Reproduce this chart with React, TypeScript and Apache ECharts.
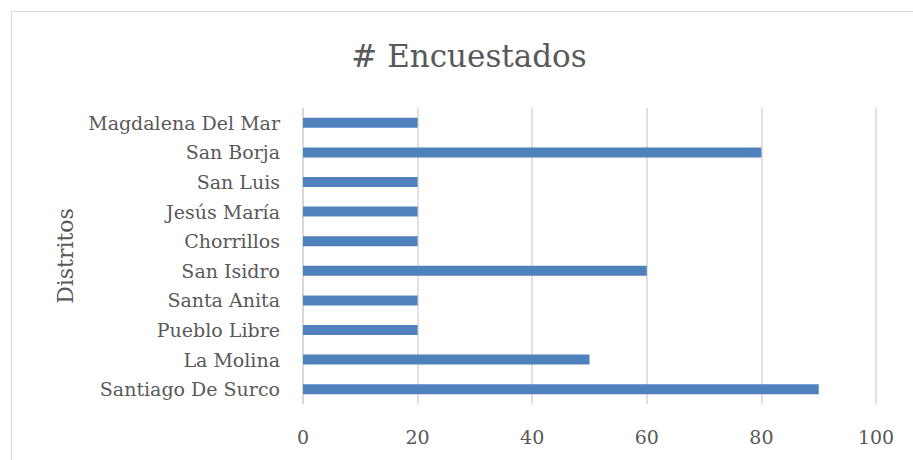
import React, { useEffect, useRef } from "react";
import * as echarts from "echarts";

const categories = [
  "Santiago De Surco",
  "La Molina",
  "Pueblo Libre",
  "Santa Anita",
  "San Isidro",
  "Chorrillos",
  "Jesús María",
  "San Luis",
  "San Borja",
  "Magdalena Del Mar",
];
const values = [90, 50, 20, 20, 60, 20, 20, 20, 80, 20];
const xTicks = [0, 20, 40, 60, 80, 100];

const FONT = "'DejaVu Serif', 'Liberation Serif', serif";

export default function App() {
  const ref = useRef<HTMLDivElement>(null);
  useEffect(() => {
    if (!ref.current) return;
    const chart = echarts.init(ref.current, undefined, { renderer: "svg" });
    chart.setOption({
      animation: false,
      backgroundColor: "#ffffff",
      title: {
        text: "# Encuestados",
        left: 464,
        top: 35,
        textAlign: "center",
        textStyle: { fontFamily: FONT, fontSize: 31, fontWeight: "normal", color: "#595959" },
      },
      graphic: [
        {
          type: "rect",
          shape: { x: 11.5, y: 11.5, width: 960, height: 500 },
          style: { fill: "none", stroke: "#d9d9d9", lineWidth: 1 },
          silent: true,
        },
      ],
      grid: { left: 303, right: 37, top: 108, bottom: 56, containLabel: false },
      xAxis: {
        type: "value",
        min: xTicks[0],
        max: xTicks[xTicks.length - 1],
        interval: 20,
        axisLine: { show: false },
        axisTick: { show: false },
        splitLine: { show: true, lineStyle: { color: "#d6d6d6", width: 1.5 } },
        axisLabel: {
          fontFamily: FONT,
          fontSize: 19,
          color: "#595959",
          margin: 23,
        },
      },
      yAxis: {
        type: "category",
        data: categories,
        name: "Distritos",
        nameLocation: "middle",
        nameGap: 227,
        nameTextStyle: { fontFamily: FONT, fontSize: 22, color: "#595959" },
        axisLine: { show: true, lineStyle: { color: "#d6d6d6", width: 1.5 } },
        axisTick: { show: false },
        axisLabel: { fontFamily: FONT, fontSize: 19, color: "#595959", margin: 23 },
      },
      series: [
        {
          type: "bar",
          data: values,
          barWidth: 10,
          itemStyle: { color: "#4f81bd" },
        },
      ],
    });
    return () => chart.dispose();
  }, []);
  return (
    <div
      ref={ref}
      style={{ position: "fixed", left: 0, top: 0, width: 913, height: 460 }}
    />
  );
}
